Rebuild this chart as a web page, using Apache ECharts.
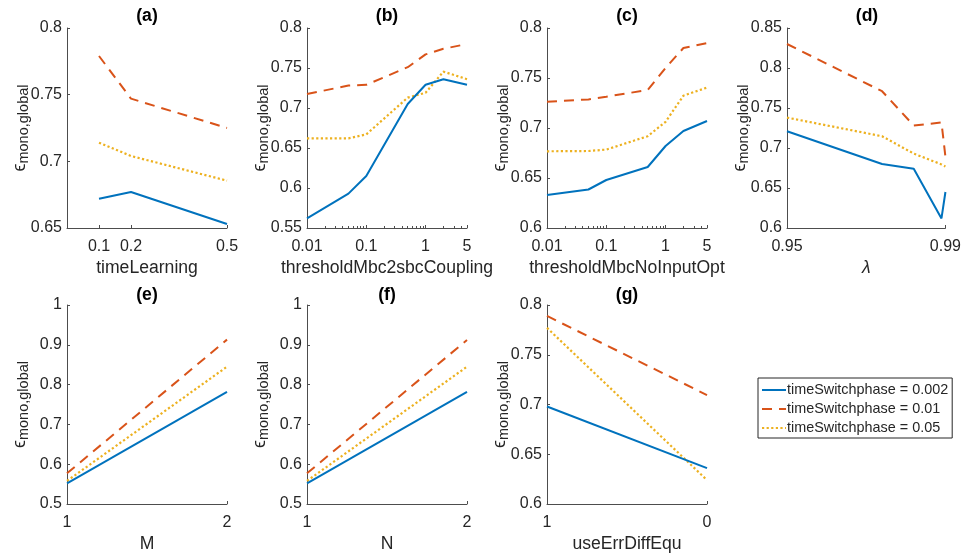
<!DOCTYPE html>
<html>
<head>
<meta charset="utf-8">
<script src="https://cdn.jsdelivr.net/npm/echarts@6/dist/echarts.min.js"></script>
<style>
html,body{margin:0;padding:0;background:#fff;}
#chart{width:964px;height:559px;}
</style>
</head>
<body>
<div id="chart"></div>
<script>
// ---------- data ----------
const seriesNames = ['timeSwitchphase = 0.002', 'timeSwitchphase = 0.01', 'timeSwitchphase = 0.05'];
const panelTitles = ['(a)', '(b)', '(c)', '(d)', '(e)', '(f)', '(g)'];
const xNames = ['timeLearning', 'thresholdMbc2sbcCoupling', 'thresholdMbcNoInputOpt', 'λ', 'M', 'N', 'useErrDiffEqu'];

const xA = [0.1, 0.2, 0.5];
const aBlue = [0.672, 0.677, 0.653];
const aRed = [0.779, 0.747, 0.725];
const aYellow = [0.714, 0.704, 0.6855];

const xB = [0.01, 0.05, 0.1, 0.5, 1, 2, 5];
const bBlue = [0.562, 0.593, 0.615, 0.705, 0.729, 0.736, 0.729];
const bRed = [0.7175, 0.728, 0.729, 0.751, 0.767, 0.774, 0.780];
const bYellow = [0.662, 0.662, 0.667, 0.713, 0.719, 0.7455, 0.736];

const xC = [0.01, 0.05, 0.1, 0.5, 1, 2, 5];
const cBlue = [0.633, 0.6385, 0.648, 0.661, 0.682, 0.697, 0.707];
const cRed = [0.7263, 0.7286, 0.7313, 0.738, 0.760, 0.780, 0.785];
const cYellow = [0.6767, 0.677, 0.6784, 0.6918, 0.7062, 0.7323, 0.7404];

const xD = [0.95, 0.974, 0.982, 0.989, 0.99];
const dBlue = [0.721, 0.680, 0.674, 0.612, 0.645];
const dRed = [0.830, 0.771, 0.728, 0.732, 0.689];
const dYellow = [0.738, 0.7147, 0.693, 0.6795, 0.677];

const xE = [1, 2];
const eBlue = [0.552, 0.7815];
const eRed = [0.577, 0.913];
const eYellow = [0.558, 0.845];

const xF = [1, 2];
const fBlue = [0.552, 0.7815];
const fRed = [0.577, 0.912];
const fYellow = [0.558, 0.845];

const xG = [1, 0];
const gBlue = [0.698, 0.636];
const gRed = [0.789, 0.7095];
const gYellow = [0.777, 0.624];

// tick labels
const xTicksA = [0.1, 0.2, 0.5];
const xTicksLog = [0.01, 0.1, 1, 5];
const xMinorLog = [0.02,0.03,0.04,0.05,0.06,0.07,0.08,0.09,0.2,0.3,0.4,0.5,0.6,0.7,0.8,0.9,2,3,4];
const xTicksD = [0.95, 0.99];
const xTicksG = [0, 1];

// ---------- styling / layout ----------
const FONT = 'Liberation Sans, Arial, Helvetica, sans-serif';
const TXT = '#262626';
const AX = '#4d4d4d';
const colors = ['#0072BD', '#D95319', '#EDB120'];
const lineWidths = [2, 2, 2.2];
const lineTypes = ['solid', [10, 7], [2.2, 2.4]];

const grids = [
  {left: 67, top: 28, width: 160, height: 200},
  {left: 307, top: 28, width: 160, height: 200},
  {left: 547, top: 28, width: 160, height: 200},
  {left: 787, top: 28, width: 160, height: 200},
  {left: 67, top: 305, width: 160, height: 199},
  {left: 307, top: 305, width: 160, height: 199},
  {left: 547, top: 305, width: 160, height: 199}
];

const yRanges = [
  [0.65, 0.8, 0.05], [0.55, 0.8, 0.05], [0.6, 0.8, 0.05], [0.6, 0.85, 0.05],
  [0.5, 1, 0.1], [0.5, 1, 0.1], [0.6, 0.8, 0.05]
];

const axisLineStyle = {show: true, onZero: false, lineStyle: {color: AX, width: 1}};
const tickStyle = {show: true, inside: true, length: 3, lineStyle: {color: AX, width: 1}};
const labelStyle = {color: TXT, fontSize: 16, fontFamily: FONT};
const XM = 11;

function xAxisBase(i) {
  return {
    gridIndex: i,
    position: 'bottom',
    name: xNames[i],
    nameLocation: 'middle',
    nameGap: 31,
    nameMoveOverlap: false,
    nameTextStyle: {color: TXT, fontSize: 17.6, fontFamily: FONT, fontStyle: i === 3 ? 'italic' : 'normal'},
    axisLine: axisLineStyle,
    axisTick: tickStyle,
    axisLabel: Object.assign({margin: XM}, labelStyle),
    splitLine: {show: false}
  };
}

const xAxes = [];
// (a)
xAxes.push(Object.assign(xAxisBase(0), {type: 'value', min: 0, max: 0.5,
  axisTick: Object.assign({}, tickStyle, {customValues: xTicksA}),
  axisLabel: Object.assign({margin: XM, customValues: xTicksA}, labelStyle)}));
// (b), (c)
for (const i of [1, 2]) {
  xAxes.push(Object.assign(xAxisBase(i), {type: 'log', logBase: 10, min: 0.01, max: 5,
    axisTick: Object.assign({}, tickStyle, {customValues: xTicksLog}),
    axisLabel: Object.assign({margin: XM, customValues: xTicksLog}, labelStyle)}));
}
// (d)
xAxes.push(Object.assign(xAxisBase(3), {type: 'value', min: 0.95, max: 0.99,
  axisTick: Object.assign({}, tickStyle, {customValues: xTicksD}),
  axisLabel: Object.assign({margin: XM, customValues: xTicksD}, labelStyle)}));
// (e), (f)
for (const i of [4, 5]) {
  xAxes.push(Object.assign(xAxisBase(i), {type: 'value', min: 1, max: 2, interval: 1}));
}
// (g)
xAxes.push(Object.assign(xAxisBase(6), {type: 'value', min: 0, max: 1, inverse: true,
  axisTick: Object.assign({}, tickStyle, {customValues: xTicksG}),
  axisLabel: Object.assign({margin: XM, customValues: xTicksG}, labelStyle)}));
// minor ticks for log axes
for (const i of [1, 2]) {
  xAxes.push({gridIndex: i, type: 'log', logBase: 10, min: 0.01, max: 5, position: 'bottom',
    axisLine: {show: false, onZero: false}, splitLine: {show: false},
    axisLabel: {show: false},
    axisTick: {show: true, inside: true, length: 2, customValues: xMinorLog, lineStyle: {color: AX, width: 1}}});
}

const yAxes = yRanges.map((r, i) => ({
  gridIndex: i, type: 'value', min: r[0], max: r[1], interval: r[2],
  position: 'left',
  name: '{e|ϵ}{s|mono,global}',
  nameLocation: 'middle', nameRotate: 90, nameGap: 36,
  nameMoveOverlap: false,
  nameTextStyle: {color: TXT, fontFamily: FONT,
    rich: {
      e: {fontSize: 18, fontFamily: FONT, color: TXT, verticalAlign: 'bottom', padding: [0, 0, 2, 0]},
      s: {fontSize: 14.5, fontFamily: FONT, color: TXT, verticalAlign: 'bottom'}
    }},
  axisLine: axisLineStyle,
  axisTick: tickStyle,
  axisLabel: Object.assign({margin: 5}, labelStyle),
  splitLine: {show: false}
}));

const panelData = [
  [xA, [aBlue, aRed, aYellow]],
  [xB, [bBlue, bRed, bYellow]],
  [xC, [cBlue, cRed, cYellow]],
  [xD, [dBlue, dRed, dYellow]],
  [xE, [eBlue, eRed, eYellow]],
  [xF, [fBlue, fRed, fYellow]],
  [xG, [gBlue, gRed, gYellow]]
];

const series = [];
panelData.forEach((p, gi) => {
  const xs = p[0];
  p[1].forEach((ys, si) => {
    series.push({
      type: 'line', name: seriesNames[si],
      xAxisIndex: gi, yAxisIndex: gi,
      data: xs.map((x, k) => [x, ys[k]]),
      symbol: 'none', showSymbol: false,
      lineStyle: {color: colors[si], width: lineWidths[si], type: lineTypes[si]},
      itemStyle: {color: colors[si]},
      animation: false, silent: true, z: 3 - si
    });
  });
});

const titles = grids.map((g, i) => ({
  text: panelTitles[i],
  left: g.left + g.width / 2, top: g.top - 21 + (i >= 4 ? 2 : 0),
  textAlign: 'center', padding: 0,
  textStyle: {fontSize: 17.6, fontWeight: 'bold', color: '#000', fontFamily: FONT}
}));

const option = {
  backgroundColor: '#fff',
  animation: false,
  title: titles,
  grid: grids,
  xAxis: xAxes,
  yAxis: yAxes,
  legend: {
    data: seriesNames,
    orient: 'vertical',
    left: 758, top: 378,
    padding: [5, 4, 3, 3],
    itemWidth: 24, itemHeight: 14, itemGap: 5,
    borderColor: '#262626', borderWidth: 1,
    backgroundColor: '#fff',
    itemStyle: {opacity: 0},
    textStyle: {fontSize: 14.4, color: TXT, fontFamily: FONT, padding: [0, 0, 0, -4]}
  },
  series: series
};

const chart = echarts.init(document.getElementById('chart'), null, {renderer: 'canvas'});
chart.setOption(option);
</script>
</body>
</html>
